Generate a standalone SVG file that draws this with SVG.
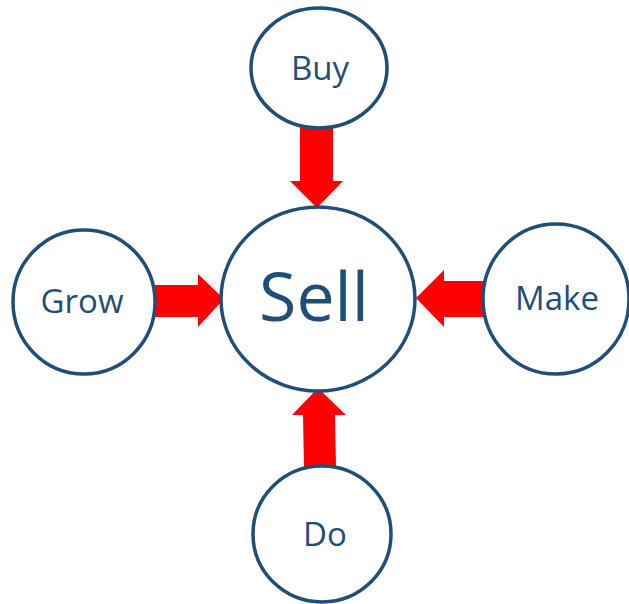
<svg xmlns="http://www.w3.org/2000/svg" width="629" height="604" viewBox="0 0 629 604">
<style>
.n{fill:#fff;stroke:#1f4e79;stroke-width:3.5}
.t{fill:#1f4e79;font-family:"Open Sans","Noto Sans",sans-serif;text-anchor:middle}
.a{fill:#ff0000}
</style>
<rect width="629" height="604" fill="#fff"/>
<g id="connectors">
<polygon class="a" points="300,126 333,126 333,181 343,181 317,208 290,181 300,181"/>
<polygon class="a" points="155,285 198,285 198,274 224,299 198,327 198,317 155,317"/>
<polygon class="a" points="484,281 444,281 444,270 416,298 444,327 444,317 484,317"/>
<polygon class="a" points="336,468 304,468 303,415 292,415 318,388 346,415 335,415"/>
</g>
<g id="sell"><ellipse class="n" cx="318" cy="299" rx="97" ry="92"/><text class="t" x="314" y="321" font-size="68">Sell</text></g>
<g id="buy"><ellipse class="n" cx="319" cy="68" rx="68" ry="60"/><text class="t" x="320" y="80" font-size="33">Buy</text></g>
<g id="grow"><ellipse class="n" cx="84" cy="302" rx="71" ry="72"/><text class="t" x="82" y="313" font-size="33">Grow</text></g>
<g id="make"><ellipse class="n" cx="556" cy="299" rx="73" ry="75"/><text class="t" x="557" y="310" font-size="33">Make</text></g>
<g id="do"><ellipse class="n" cx="322" cy="534" rx="69" ry="68"/><text class="t" x="325" y="546" font-size="33">Do</text></g>
</svg>
